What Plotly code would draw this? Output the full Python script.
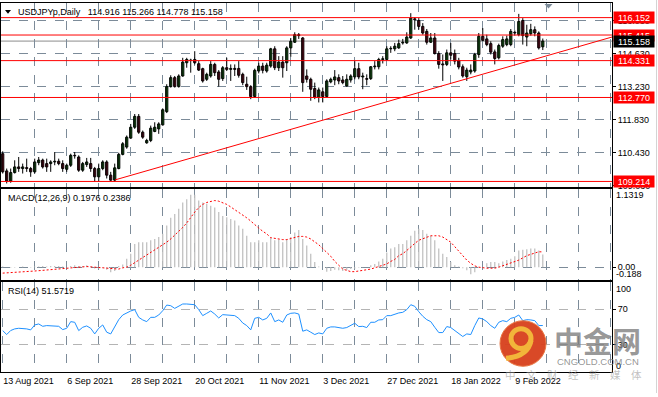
import plotly.graph_objects as go

# ---------------- data ----------------
symbol_title = "USDJPYp,Daily"
last_ohlc = ["114.916", "115.266", "114.778", "115.158"]

date_labels = ["13 Aug 2021", "6 Sep 2021", "28 Sep 2021", "20 Oct 2021", "11 Nov 2021",
               "3 Dec 2021", "27 Dec 2021", "18 Jan 2022", "9 Feb 2022"]
date_label_bars = [0, 16, 32, 48, 64, 80, 96, 112, 128]

opens = [
    110.39, 109.66, 109.23, 109.59, 109.83, 109.76, 109.80, 109.76, 109.62, 110.01,
    110.12, 109.97, 109.97, 110.04, 110.07, 109.97, 109.73, 109.90, 110.32, 110.25,
    109.69, 109.93, 109.97, 109.76, 109.41, 109.76, 110.04, 109.48, 109.27, 109.76,
    110.36, 110.67, 111.05, 111.51, 111.97, 111.30, 110.85, 110.95, 111.33, 111.44,
    111.61, 112.17, 113.23, 113.61, 113.23, 113.68, 114.24, 114.35, 114.38, 114.20,
    113.99, 113.54, 113.68, 114.17, 113.85, 113.57, 114.03, 113.96, 114.00, 114.00,
    113.75, 113.33, 113.23, 112.81, 113.89, 114.10, 113.89, 114.10, 114.83, 114.03,
    114.27, 114.24, 114.87, 115.11, 115.43, 115.29, 113.68, 113.54, 113.15, 112.77,
    113.01, 112.81, 113.43, 113.51, 113.61, 113.51, 113.26, 113.51, 113.64, 113.99,
    113.64, 113.57, 113.57, 114.07, 114.07, 114.38, 114.38, 114.83, 114.83, 114.87,
    115.08, 115.08, 115.29, 116.10, 116.03, 115.78, 115.57, 115.11, 115.29, 114.63,
    114.19, 114.17, 114.66, 114.63, 114.34, 114.07, 113.65, 113.85, 113.89, 114.59,
    115.36, 115.25, 115.05, 114.70, 114.45, 114.94, 115.01, 115.01, 115.53, 115.43,
    116.03, 115.33, 115.47, 115.64, 115.50, 114.916]
highs = [
    110.49, 109.76, 109.76, 110.11, 110.25, 109.97, 110.18, 109.83, 110.18, 110.25,
    110.18, 110.18, 110.11, 110.46, 110.18, 110.11, 109.97, 110.39, 110.46, 110.32,
    110.04, 110.21, 110.21, 109.83, 109.97, 110.11, 110.11, 109.62, 109.97, 110.43,
    110.88, 111.16, 111.65, 112.07, 112.07, 111.37, 111.02, 111.58, 111.72, 111.72,
    112.31, 113.33, 113.71, 113.68, 113.75, 114.45, 114.45, 114.41, 114.73, 114.31,
    114.03, 113.82, 114.31, 114.24, 113.93, 114.10, 114.45, 114.17, 114.17, 114.31,
    113.82, 113.65, 113.29, 113.99, 114.24, 114.24, 114.24, 114.87, 114.94, 114.52,
    114.52, 114.94, 115.29, 115.53, 115.50, 115.33, 113.96, 113.61, 113.40, 113.19,
    113.19, 113.54, 113.61, 113.93, 113.75, 113.68, 113.75, 113.75, 114.31, 114.24,
    113.82, 113.75, 114.10, 114.31, 114.45, 114.52, 114.94, 114.94, 115.08, 115.22,
    115.25, 115.53, 116.34, 116.17, 116.13, 115.92, 115.67, 115.50, 115.50, 114.73,
    114.59, 114.80, 115.08, 114.80, 114.45, 114.17, 114.03, 114.17, 114.66, 115.50,
    115.71, 115.43, 115.15, 114.80, 115.05, 115.36, 115.39, 115.67, 115.61, 116.31,
    116.13, 115.85, 115.89, 115.78, 115.57, 115.266]
lows = [
    109.55, 109.13, 109.16, 109.55, 109.62, 109.55, 109.62, 109.41, 109.55, 109.90,
    109.76, 109.62, 109.62, 109.90, 109.90, 109.62, 109.62, 109.83, 110.18, 109.62,
    109.62, 109.83, 109.62, 109.20, 109.20, 109.69, 109.34, 109.23, 109.20, 109.73,
    110.32, 110.60, 111.02, 111.44, 111.23, 111.02, 110.81, 110.88, 111.30, 111.23,
    111.58, 112.11, 113.19, 113.19, 113.19, 113.65, 114.03, 113.82, 114.17, 113.89,
    113.40, 113.47, 113.61, 113.68, 113.23, 113.47, 113.89, 113.47, 113.68, 113.61,
    113.29, 113.09, 112.70, 112.75, 113.79, 113.79, 113.82, 114.03, 113.93, 113.89,
    113.61, 113.89, 114.49, 115.08, 115.25, 113.01, 113.40, 112.63, 112.70, 112.56,
    112.56, 112.81, 113.37, 113.29, 113.33, 113.33, 113.23, 113.40, 113.54, 113.54,
    113.12, 113.29, 113.51, 113.96, 113.96, 114.21, 114.35, 114.66, 114.73, 114.83,
    115.01, 115.04, 115.25, 115.64, 115.64, 115.43, 115.01, 115.08, 114.59, 113.99,
    113.47, 114.10, 114.38, 114.17, 113.96, 113.61, 113.47, 113.75, 113.82, 114.45,
    115.15, 114.94, 114.59, 114.17, 114.38, 114.87, 114.94, 114.94, 115.39, 115.36,
    115.01, 114.94, 115.39, 115.36, 114.80, 114.778]
closes = [
    109.62, 109.23, 109.59, 109.83, 109.76, 109.83, 109.76, 109.62, 110.04, 110.12,
    109.83, 109.83, 110.04, 110.07, 109.97, 109.76, 109.90, 110.32, 110.30, 109.69,
    109.97, 110.04, 109.76, 109.41, 109.76, 110.04, 109.48, 109.27, 109.79, 110.36,
    110.81, 111.09, 111.51, 111.97, 111.30, 111.09, 110.95, 111.47, 111.51, 111.65,
    112.25, 113.23, 113.61, 113.23, 113.68, 114.27, 114.38, 114.34, 114.24, 113.93,
    113.47, 113.75, 114.17, 113.82, 113.54, 114.03, 113.96, 114.00, 113.96, 113.71,
    113.40, 113.23, 112.81, 113.92, 114.10, 113.92, 114.14, 114.83, 114.03, 114.27,
    114.03, 114.87, 115.15, 115.43, 115.39, 113.40, 113.54, 113.12, 112.77, 113.09,
    112.81, 113.47, 113.54, 113.64, 113.47, 113.40, 113.54, 113.68, 113.99, 113.64,
    113.68, 113.54, 114.07, 114.10, 114.38, 114.41, 114.83, 114.85, 114.94, 115.05,
    115.11, 115.33, 116.13, 116.06, 115.78, 115.50, 115.11, 115.29, 114.63, 114.17,
    114.15, 114.66, 114.56, 114.31, 114.06, 113.68, 113.93, 113.93, 114.59, 115.36,
    115.19, 115.01, 114.69, 114.42, 114.97, 115.22, 115.25, 115.57, 115.50, 115.99,
    115.39, 115.50, 115.64, 115.50, 114.87, 115.158]

macd_main = [
    0.01, 0.0, -0.01, -0.01, 0.0, 0.01, 0.0, -0.01, 0.01, 0.01,
    0.02, 0.01, 0.02, 0.02, 0.02, 0.01, 0.0, 0.02, 0.03, 0.02,
    0.02, 0.03, 0.01, -0.02, -0.02, -0.01, -0.04, -0.08, -0.06, 0.02,
    0.04, 0.13, 0.21, 0.36, 0.39, 0.39, 0.39, 0.42, 0.44, 0.47,
    0.52, 0.65, 0.77, 0.83, 0.91, 1.01, 1.06, 1.13, 1.13, 1.04,
    1.01, 0.99, 0.96, 0.93, 0.86, 0.80, 0.78, 0.75, 0.73, 0.65,
    0.60, 0.49, 0.39, 0.39, 0.42, 0.39, 0.39, 0.46, 0.42, 0.43,
    0.39, 0.44, 0.47, 0.54, 0.58, 0.44, 0.34, 0.21, 0.08, 0.01,
    0.0, -0.07, -0.06, -0.04, -0.05, -0.06, -0.05, -0.03, -0.02, -0.01,
    -0.005, 0.0, 0.03, 0.05, 0.09, 0.13, 0.23, 0.29, 0.31, 0.36,
    0.36, 0.42, 0.49, 0.57, 0.60, 0.58, 0.52, 0.49, 0.42, 0.29,
    0.21, 0.16, 0.08, 0.03, 0.01, -0.016, -0.05, -0.11, -0.08, -0.01,
    0.0, 0.06, 0.08, 0.08, 0.06, 0.09, 0.11, 0.13, 0.17, 0.26,
    0.27, 0.28, 0.29, 0.29, 0.26, 0.1976]
macd_signal = [
    -0.093, -0.09, -0.088, -0.085, -0.08, -0.075, -0.07, -0.065, -0.06, -0.055,
    -0.05, -0.045, -0.04, -0.035, -0.03, -0.025, -0.02, -0.01, 0.0, 0.005,
    0.01, 0.01, 0.005, 0.0, -0.01, -0.015, -0.02, -0.03, -0.035, -0.03,
    -0.01, 0.0, 0.03, 0.07, 0.11, 0.15, 0.18, 0.22, 0.26, 0.30,
    0.35, 0.39, 0.44, 0.50, 0.55, 0.62, 0.69, 0.78, 0.86, 0.93,
    0.98, 1.01, 1.03, 1.04, 1.03, 1.01, 0.98, 0.94, 0.90, 0.86,
    0.82, 0.77, 0.72, 0.66, 0.61, 0.56, 0.52, 0.46, 0.45, 0.43,
    0.43, 0.43, 0.45, 0.47, 0.48, 0.48, 0.47, 0.44, 0.40, 0.35,
    0.29, 0.23, 0.17, 0.09, 0.03, -0.03, -0.05, -0.07, -0.07, -0.06,
    -0.05, -0.045, -0.03, -0.01, 0.01, 0.03, 0.05, 0.09, 0.12, 0.18,
    0.21, 0.26, 0.32, 0.37, 0.42, 0.44, 0.47, 0.49, 0.49, 0.49,
    0.47, 0.43, 0.39, 0.32, 0.25, 0.18, 0.11, 0.06, 0.02, 0.0,
    -0.01, -0.016, -0.016, -0.016, 0.0, 0.02, 0.04, 0.06, 0.08, 0.11,
    0.145, 0.18, 0.20, 0.22, 0.24, 0.2386]
rsi = [
    45.9, 41.5, 46.0, 47.8, 48.5, 48.5, 47.8, 46.7, 52.2, 53.3,
    50.7, 51.5, 51.5, 51.5, 50.7, 47.0, 48.5, 55.9, 55.2, 45.9,
    49.6, 51.1, 48.5, 42.2, 48.5, 52.2, 44.1, 42.2, 49.6, 58.1,
    63.3, 65.9, 67.8, 69.3, 60.7, 57.8, 55.9, 60.7, 60.7, 63.3,
    68.1, 74.4, 73.7, 70.7, 73.0, 75.6, 75.6, 75.6, 74.8, 69.3,
    62.6, 65.2, 67.8, 64.4, 60.0, 63.7, 63.3, 63.3, 62.6, 59.6,
    54.4, 51.5, 46.7, 59.6, 60.7, 57.8, 59.6, 65.6, 55.9, 57.8,
    55.2, 63.3, 65.2, 65.6, 64.4, 45.2, 46.7, 44.1, 41.5, 43.3,
    42.2, 48.5, 50.0, 50.0, 49.3, 48.5, 49.3, 51.5, 54.1, 50.4,
    50.7, 49.3, 55.2, 55.2, 57.8, 58.1, 62.6, 62.6, 64.4, 65.6,
    66.3, 69.3, 74.8, 73.0, 67.0, 61.9, 58.1, 55.9, 49.6, 43.7,
    43.7, 50.4, 49.3, 45.9, 42.6, 39.3, 42.2, 41.5, 51.5, 60.0,
    58.9, 55.9, 51.5, 48.5, 55.2, 57.0, 55.9, 59.6, 60.7, 63.3,
    57.0, 58.1, 57.8, 57.0, 51.5, 51.5719]

macd_label = "MACD(12,26,9) 0.1976 0.2386"
rsi_label = "RSI(14) 51.5719"

price_ticks = [109.030, 110.430, 111.830, 113.230, 114.630, 116.030]
level_lines = [116.152, 115.415, 114.331, 112.770, 109.214]
current_price = 115.158
trend_x = [28.1, 152.3]
trend_y = [109.28, 115.33]
macd_top, macd_bottom = 1.1319, -0.188
rsi_levels = [30, 70]

# ---------------- styling / layout helpers ----------------
W, H = 658, 397
FONT = "Liberation Sans"
GREEN = "#2BC02B"
RED = "#D8143A"
GRID = "#7C8B99"


def px(x):
    return x / W


def py(y):
    return 1 - y / H


n = len(closes)
idx = list(range(n))
XR = [-0.425, 152.3]
XDOM = [px(1), px(612)]

fig = go.Figure()

# wicks
wx, wy = [], []
for i, (h, l) in enumerate(zip(highs, lows)):
    wx += [i, i, None]
    wy += [l, h, None]
fig.add_trace(go.Scatter(x=wx, y=wy, mode="lines", line=dict(color="black", width=1),
                         xaxis="x", yaxis="y", hoverinfo="skip"))
# bodies
base = [min(o, c) for o, c in zip(opens, closes)]
hgt = [max(abs(c - o), 0.003) for o, c in zip(opens, closes)]
cols = [GREEN if c >= o else RED for o, c in zip(opens, closes)]
fig.add_trace(go.Bar(x=idx, y=hgt, base=base, width=0.55,
                     marker=dict(color=cols, line=dict(color="black", width=1)),
                     xaxis="x", yaxis="y", hoverinfo="skip"))
# trend line
fig.add_trace(go.Scatter(x=trend_x, y=trend_y, mode="lines", line=dict(color="#FF0000", width=1),
                         xaxis="x", yaxis="y", hoverinfo="skip"))

# MACD
fig.add_trace(go.Bar(x=idx, y=macd_main, width=0.3, marker=dict(color="#BDBDBD", line=dict(width=0)),
                     xaxis="x2", yaxis="y2", hoverinfo="skip"))
fig.add_trace(go.Scatter(x=idx, y=macd_signal, mode="lines",
                         line=dict(color="#FF0000", width=1, dash="2px,2px"),
                         xaxis="x2", yaxis="y2", hoverinfo="skip"))
# RSI
fig.add_trace(go.Scatter(x=idx, y=rsi, mode="lines", line=dict(color="#1E90FF", width=1),
                         xaxis="x3", yaxis="y3", hoverinfo="skip"))

grid_x = list(range(8, 153, 8))
xt_text = []
for v in grid_x:
    xt_text.append(date_labels[date_label_bars.index(v)] if v in date_label_bars else "")

axis_common = dict(range=XR, domain=XDOM, showline=True, linecolor="black", linewidth=1,
                   mirror=True, showgrid=True, gridcolor=GRID, griddash="dash", gridwidth=1,
                   zeroline=False, tickvals=grid_x)

font_small = dict(family=FONT, size=9, color="black")

layout = dict(
    width=W, height=H, margin=dict(l=0, r=0, t=0, b=0),
    paper_bgcolor="white", plot_bgcolor="white", showlegend=False,
    font=font_small, barmode="overlay", hovermode=False,
    xaxis=dict(axis_common, anchor="y", showticklabels=False, ticks=""),
    xaxis2=dict(axis_common, anchor="y2", showticklabels=False, ticks=""),
    xaxis3=dict(axis_common, anchor="y3", ticks="", tickvals=[0] + grid_x,
                ticktext=[date_labels[0]] + xt_text, ticklabelposition="outside right",
                tickfont=font_small),
    yaxis=dict(domain=[py(188.5), py(3)], range=[108.996, 116.772], side="right", anchor="x",
               showline=True, linecolor="black", mirror=True, showgrid=True, gridcolor=GRID,
               griddash="dash", zeroline=False, tickvals=price_ticks,
               ticktext=["%.3f" % v for v in price_ticks], ticks="outside", ticklen=3,
               tickcolor="black", tickfont=font_small),
    yaxis2=dict(domain=[py(282.5), py(191)], range=[-0.195, 1.219], side="right", anchor="x2",
                showline=True, linecolor="black", mirror=True, showgrid=True, gridcolor=GRID,
                griddash="dash", zeroline=False, tickvals=[0], ticktext=["0.00"],
                ticks="outside", ticklen=3, tickcolor="black", tickfont=font_small),
    yaxis3=dict(domain=[py(375.5), py(285)], range=[0, 100], side="right", anchor="x3",
                showline=True, linecolor="black", mirror=True, showgrid=True, gridcolor="#B4B4B4",
                griddash="dash", zeroline=False, tickvals=rsi_levels,
                ticktext=[str(v) for v in rsi_levels], ticks="outside", ticklen=3,
                tickcolor="black", tickfont=font_small),
)
fig.update_layout(**layout)

shapes = []
for lv in level_lines:
    shapes.append(dict(type="line", xref="x domain", yref="y", x0=0, x1=1, y0=lv, y1=lv,
                       line=dict(color="#FF0000", width=1), layer="above"))
shapes.append(dict(type="line", xref="x domain", yref="y", x0=0, x1=1, y0=current_price,
                   y1=current_price, line=dict(color="#8C8C8C", width=1), layer="below"))


def path(points):
    s = "M " + " L ".join("%f %f" % (px(x), py(y)) for x, y in points) + " Z"
    return s


# header triangle and chart shift marker
shapes.append(dict(type="path", xref="paper", yref="paper", path=path([(5, 10), (11, 10), (8, 14)]),
                   fillcolor="black", line=dict(width=0)))
shapes.append(dict(type="path", xref="paper", yref="paper",
                   path=path([(544.5, 4), (552.5, 4), (548.5, 8.5)]),
                   fillcolor="#7C8B99", line=dict(width=0)))
# watermark logo
shapes.append(dict(type="circle", xref="paper", yref="paper", x0=px(500), x1=px(546),
                   y0=py(370), y1=py(324), fillcolor="#D8401C", line=dict(color="#E8703A", width=1),
                   opacity=0.95, layer="above"))
shapes.append(dict(type="circle", xref="paper", yref="paper", x0=px(511), x1=px(531),
                   y0=py(352), y1=py(332), fillcolor="rgba(0,0,0,0)", line=dict(color="#F2B53A", width=5),
                   opacity=1, layer="above"))
shapes.append(dict(type="path", xref="paper", yref="paper",
                   path="M %f %f Q %f %f %f %f" % (px(531), py(344), px(528), py(360), px(506), py(362)),
                   line=dict(color="#F2B53A", width=5), opacity=1, layer="above"))
# right window edge
shapes.append(dict(type="line", xref="paper", yref="paper", x0=px(656.5), x1=px(656.5), y0=0, y1=1,
                   line=dict(color="#D4D4D4", width=1)))
fig.update_layout(shapes=shapes)

ann = []
nb = "\u00a0"
ann.append(dict(xref="paper", yref="paper", x=px(16), y=py(12), xanchor="left", yanchor="middle",
                text=symbol_title + nb * 3 + nb.join(last_ohlc), showarrow=False, font=font_small))
ann.append(dict(xref="paper", yref="paper", x=px(5.5), y=py(200.5), xanchor="left", yanchor="middle",
                text=macd_label, showarrow=False, font=font_small))
ann.append(dict(xref="paper", yref="paper", x=px(5.5), y=py(294), xanchor="left", yanchor="middle",
                text=rsi_label, showarrow=False, font=font_small))
# right-axis extreme labels
ann.append(dict(xref="paper", yref="y2", x=px(614), y=macd_top, xanchor="left", yanchor="middle",
                text="%.4f" % macd_top, showarrow=False, font=font_small))
ann.append(dict(xref="paper", yref="y2", x=px(614), y=macd_bottom, yshift=5, xanchor="left",
                yanchor="middle", text="%.3f" % macd_bottom, showarrow=False, font=font_small))
ann.append(dict(xref="paper", yref="y3", x=px(614), y=100, yshift=-7, xanchor="left",
                yanchor="middle", text="100", showarrow=False, font=font_small))
ann.append(dict(xref="paper", yref="y3", x=px(614), y=0, yshift=6, xanchor="left",
                yanchor="middle", text="0", showarrow=False, font=font_small))
# price level boxes
for lv in level_lines:
    ann.append(dict(xref="paper", yref="y", x=px(612.5), y=lv, xanchor="left", yanchor="middle",
                    text="%.3f" % lv, showarrow=False, bgcolor="#FF0000", borderpad=1,
                    width=38, height=9, align="center", font=dict(family=FONT, size=9, color="white")))
ann.append(dict(xref="paper", yref="y", x=px(612.5), y=current_price, xanchor="left", yanchor="middle",
                text="%.3f" % current_price, showarrow=False, bgcolor="#000000", borderpad=1,
                width=38, height=9, align="center", font=dict(family=FONT, size=9, color="white")))
# watermark text
ann.append(dict(xref="paper", yref="paper", x=px(597), y=py(343), xanchor="center", yanchor="middle",
                text="<b>中金网</b>", showarrow=False,
                font=dict(family="Noto Sans CJK SC", size=29, color="rgba(125,125,125,0.8)")))
ann.append(dict(xref="paper", yref="paper", x=px(598), y=py(365), xanchor="center", yanchor="middle",
                text="CNGOLD.COM.CN", showarrow=False,
                font=dict(family=FONT, size=9.5, color="rgba(130,130,130,0.85)")))
ann.append(dict(xref="paper", yref="paper", x=px(573), y=py(378), xanchor="center", yanchor="middle",
                text="中\u3000文\u3000财\u3000经\u3000新\u3000媒\u3000体", showarrow=False,
                font=dict(family="Noto Sans CJK SC", size=10.5, color="rgba(150,150,150,0.6)")))
fig.update_layout(annotations=ann)

fig.write_html("out.html", config={"displayModeBar": False, "staticPlot": True},
               post_script="document.body.style.margin='0';document.body.style.overflow='hidden';")
